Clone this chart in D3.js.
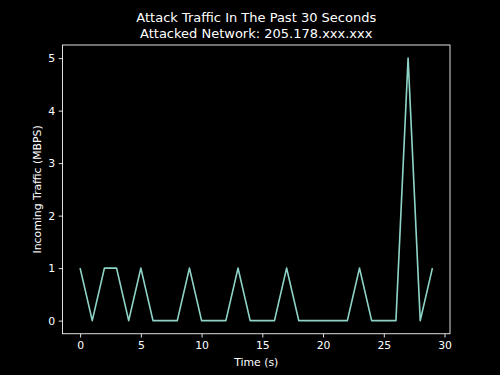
<html>
<script src='https://d3js.org/d3.v7.min.js'></script>
<style>
body {margin: 0; background: black;}
text {font-family: 'DejaVu Sans', sans-serif; fill: white;}
</style>
<body>
<svg width=500 height=375></svg>
<script>
// seconds and traffic readings
var seconds = d3.range(0, 30);
var traffic = [1, 0, 1, 1, 0, 1, 0, 0, 0, 1,
               0, 0, 0, 1, 0, 0, 0, 1, 0, 0,
               0, 0, 0, 1, 0, 0, 0, 5, 0, 1];
var xTicks = [0, 5, 10, 15, 20, 25, 30];
var yTicks = [0, 1, 2, 3, 4, 5];

var svg = d3.select('svg');
svg.append('rect').attr('width', 500).attr('height', 375).attr('fill', 'black');

var plotLeft = 62.5, plotRight = 450, plotTop = 45, plotBottom = 333.75;
var xs = d3.scaleLinear().domain([-1.45, 30.45]).range([plotLeft, plotRight]);
var ys = d3.scaleLinear().domain([-0.25, 5.25]).range([plotBottom, plotTop]);

var data = seconds.map(function(s, i) { return {s: s, v: traffic[i]}; });

// x axis
var xg = svg.append('g').attr('transform', 'translate(0,' + plotBottom + ')')
  .call(d3.axisBottom(xs).tickValues(xTicks).tickFormat(d3.format('d')).tickSize(3.8).tickPadding(3.5));
// y axis
var yg = svg.append('g').attr('transform', 'translate(' + plotLeft + ',0)')
  .call(d3.axisLeft(ys).tickValues(yTicks).tickFormat(d3.format('d')).tickSize(3.8).tickPadding(3.5));

[xg, yg].forEach(function(g) {
  g.select('.domain').remove();
  g.selectAll('line').attr('stroke', 'white').attr('stroke-width', 0.87);
  g.selectAll('text').style('font-size', '10.85px').attr('fill', 'white')
    .style('font-family', "'DejaVu Sans', sans-serif");
});

// frame
svg.append('rect')
  .attr('x', plotLeft).attr('y', plotTop)
  .attr('width', plotRight - plotLeft).attr('height', plotBottom - plotTop)
  .attr('fill', 'none').attr('stroke', 'white').attr('stroke-width', 0.87);

// line
svg.append('path').datum(data)
  .attr('fill', 'none')
  .attr('stroke', '#8dd3c7')
  .attr('stroke-width', 1.63)
  .attr('stroke-linejoin', 'round')
  .attr('d', d3.line().x(function(d) { return xs(d.s); }).y(function(d) { return ys(d.v); }));

// titles
var cx = (plotLeft + plotRight) / 2;
svg.append('text').attr('x', cx).attr('y', 22).style('text-anchor', 'middle')
  .style('font-size', '13px').text('Attack Traffic In The Past 30 Seconds');
svg.append('text').attr('x', cx).attr('y', 38).style('text-anchor', 'middle')
  .style('font-size', '13px').text('Attacked Network: 205.178.xxx.xxx');

svg.append('text').attr('x', cx).attr('y', 366).style('text-anchor', 'middle')
  .style('font-size', '10.85px').text('Time (s)');

svg.append('text')
  .attr('transform', 'translate(41,' + ((plotTop + plotBottom) / 2) + ') rotate(-90)')
  .style('text-anchor', 'middle')
  .style('font-size', '10.85px').text('Incoming Traffic (MBPS)');
</script>
</body>
</html>
